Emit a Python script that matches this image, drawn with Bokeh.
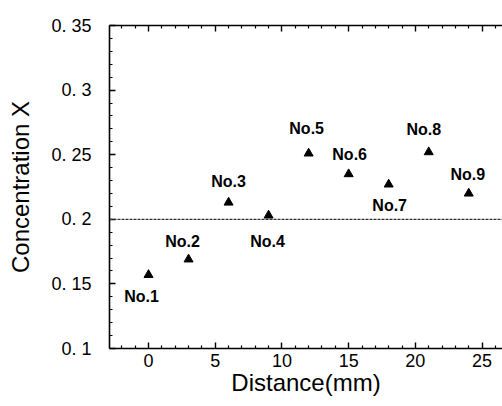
from bokeh.plotting import figure
from bokeh.models import (ColumnDataSource, LabelSet, LinearAxis, FixedTicker, Span,
                          Range1d, CustomLabelingPolicy)
from bokeh.core.properties import value
from bokeh.embed import file_html
from bokeh.resources import INLINE

# ---- data ----
distance = [0, 3, 6, 9, 12, 15, 18, 21, 24]
concentration = [0.157, 0.169, 0.213, 0.203, 0.251, 0.235, 0.227, 0.252, 0.220]
names = ["No.1", "No.2", "No.3", "No.4", "No.5", "No.6", "No.7", "No.8", "No.9"]
reference_level = 0.2

x_ticks = [0, 5, 10, 15, 20, 25]
x_minor = [-2, -1, 1, 2, 3, 4, 6, 7, 8, 9, 11, 12, 13, 14, 16, 17, 18, 19,
           21, 22, 23, 24, 26]
y_ticks = [0.1, 0.15, 0.2, 0.25, 0.3, 0.35]
y_tick_labels = ["0. 1", "0. 15", "0. 2", "0. 25", "0. 3", "0. 35"]
y_minor = [0.11, 0.12, 0.13, 0.14, 0.16, 0.17, 0.18, 0.19, 0.21, 0.22, 0.23,
           0.24, 0.26, 0.27, 0.28, 0.29, 0.31, 0.32, 0.33, 0.34]

# label placement (screen px offsets from each point)
label_dx = [-7, -6, 0, -1, -2, 1, 1, -5, -1]
label_dy = [-22, 18, 21, -26, 25, 20, -21, 23, 19]

FONT = "Liberation Sans"

p = figure(width=502, height=406, output_backend="svg", toolbar_location=None,
           x_range=Range1d(-2.925, 26.53), y_range=Range1d(0.1, 0.35),
           min_border_left=109, min_border_right=0, min_border_top=25,
           min_border_bottom=58, x_axis_location=None, y_axis_location=None)
p.outline_line_color = None
p.grid.visible = False
p.background_fill_color = "white"
p.border_fill_color = "white"

xt = FixedTicker(ticks=x_ticks, minor_ticks=x_minor)
yt = FixedTicker(ticks=y_ticks, minor_ticks=y_minor)


def style(ax):
    ax.axis_line_color = "black"
    ax.axis_line_width = 1.6
    ax.major_tick_line_color = "black"
    ax.minor_tick_line_color = "black"
    ax.major_tick_line_width = 1.4
    ax.minor_tick_line_width = 1.2
    ax.major_tick_in = 6
    ax.major_tick_out = 0
    ax.minor_tick_in = 3
    ax.minor_tick_out = 0
    ax.major_label_text_font = FONT
    ax.major_label_text_font_size = "18px"
    ax.major_label_text_color = "black"
    ax.axis_label_text_font = FONT
    ax.axis_label_text_font_size = "24px"
    ax.axis_label_text_font_style = "normal"
    ax.axis_label_text_color = "black"


xa = LinearAxis(ticker=xt, axis_label="Distance(mm)")
style(xa)
xa.major_label_standoff = 5
xa.axis_label_standoff = -1
p.add_layout(xa, "below")

ya = LinearAxis(ticker=yt, axis_label="Concentration X",
                major_label_overrides={t: s for t, s in zip(y_ticks, y_tick_labels)})
style(ya)
ya.major_label_standoff = 18
ya.axis_label_standoff = 14
p.add_layout(ya, "left")

ta = LinearAxis(ticker=xt, major_label_policy=CustomLabelingPolicy(code="return new Set()"))
style(ta)
ta.major_label_standoff = 0
p.add_layout(ta, "above")

p.add_layout(Span(location=reference_level, dimension="width",
                  line_color="#333333", line_width=1.2, line_dash="3 1"))

src = ColumnDataSource(dict(x=distance, y=concentration, name=names,
                            dx=label_dx, dy=label_dy))
p.scatter("x", "y", source=src, marker="triangle", size=9,
          fill_color="black", line_color="black")

labels = LabelSet(x="x", y="y", text="name", x_offset="dx", y_offset="dy",
                  source=src, text_align="center", text_baseline="middle",
                  text_font=value(FONT), text_font_size=value("16px"),
                  text_font_style="bold", text_color="black")
p.add_layout(labels)

open("out.html", "w").write(file_html(p, INLINE))
